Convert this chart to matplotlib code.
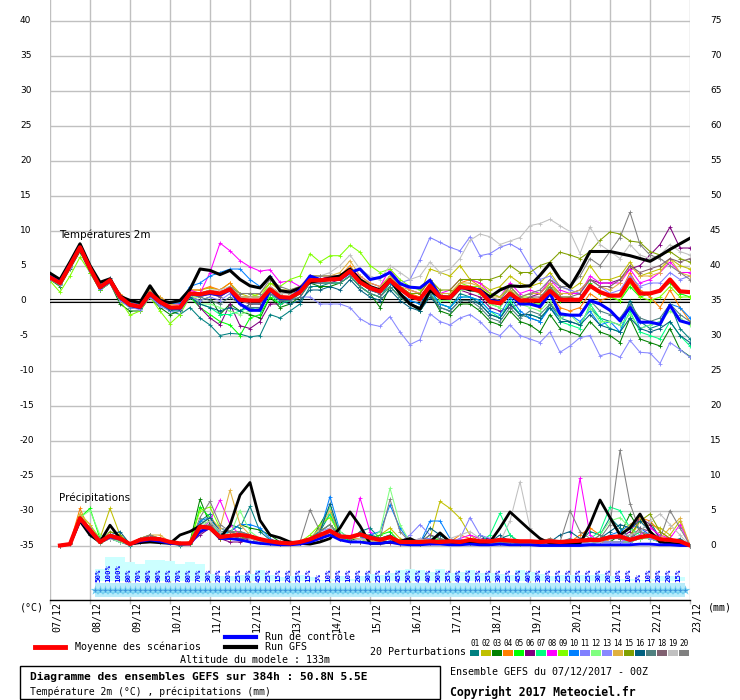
import matplotlib
matplotlib.use('Agg')
import matplotlib.pyplot as plt
from matplotlib.lines import Line2D
from matplotlib.patches import Rectangle

# ---------------- data ----------------
HOURS = list(range(0, 385, 6))          # 6-hourly steps, 07/12 00Z -> 23/12 00Z
DAY_LABELS = ['07/12', '08/12', '09/12', '10/12', '11/12', '12/12', '13/12', '14/12',
              '15/12', '16/12', '17/12', '18/12', '19/12', '20/12', '21/12', '22/12', '23/12']
LEFT_TICKS = [-35, -30, -25, -20, -15, -10, -5, 0, 5, 10, 15, 20, 25, 30, 35, 40]
RIGHT_TICKS = [0, 5, 10, 15, 20, 25, 30, 35, 40, 45, 50, 55, 60, 65, 70, 75]

MEMBER_COLORS = ['#008080', '#c0c000', '#008000', '#ff8000', '#00ff00', '#800080', '#00ff80',
                 '#ff00ff', '#80ff00', '#0080ff', '#8080ff', '#80ff80', '#8888ff', '#e0b040',
                 '#80a000', '#006080', '#508080', '#806070', '#c0c0c0', '#808080']

T_MEAN = [3.3,2.5,5.0,7.6, 4.6,1.9,2.9,0.5, -0.6,-0.9,1.0,-0.2, -1.0,-1.0,1.0,0.9, 1.2,1.0,1.6,0.1,
          0.0,0.0,1.6,0.5, 0.4,1.2,2.9,2.9, 3.0,3.1,4.2,2.6, 1.8,1.3,2.9,1.7, 0.6,0.2,2.1,0.5,
          0.4,1.9,1.8,1.3, -0.2,-0.4,1.0,0.0, 0.0,0.0,1.4,0.1, 0.1,0.1,2.1,1.2, 0.7,0.7,3.0,1.0,
          1.0,1.4,3.0,1.3, 1.2]
T_CTRL = [3.4,2.6,5.1,7.6, 4.5,1.8,2.8,0.4, -0.7,-1.0,0.9,-0.3, -1.1,-1.1,0.9,0.8, 1.0,0.8,1.5,-0.5,
          -1.4,-1.4,1.5,0.3, 0.3,1.5,3.5,3.0, 3.0,3.0,4.0,4.5, 3.0,3.3,4.0,2.4, 1.9,1.8,2.9,0.6,
          0.3,1.8,1.8,1.5, 0.0,-0.2,1.0,-0.5, -0.5,-0.9,1.0,-1.9, -2.1,-2.1,0.0,-0.5, -1.4,-2.9,-1.0,-3.1,
          -3.1,-3.4,-0.7,-2.9, -3.3]
T_GFS = [3.9,3.0,5.5,8.1, 5.0,2.6,3.1,0.6, 0.0,-0.3,2.1,0.0, -0.3,0.0,1.6,4.5, 4.3,3.7,4.3,3.0,
         2.1,1.8,3.4,1.4, 1.2,1.8,2.6,2.9, 3.2,3.5,4.5,3.0, 2.0,1.5,3.0,1.0, -0.5,-1.2,1.4,0.5,
         0.5,2.0,1.5,1.5, 0.5,1.5,2.1,2.0, 2.1,3.6,5.3,3.1, 1.9,4.3,7.0,7.0, 7.0,6.7,6.4,6.0,
         5.6,6.4,7.3,8.1, 8.9]

T01 = [3.5,2.8,5.2,7.5, 4.3,1.5,2.5,0.0, -1.0,-1.2,0.5,-0.5, -1.5,-2.0,-1.0,-2.5, -3.5,-5.0,-4.7,-4.8,
       -5.2,-5.0,-2.0,-2.5, -1.5,-0.5,2.0,2.0, 2.5,2.5,3.5,2.0, 1.0,0.5,2.5,1.0, 0.0,-0.5,1.5,-0.5,
       -1.0,1.0,0.5,-0.5, -2.0,-2.5,-0.5,-2.0, -2.5,-3.0,-0.5,-2.5, -3.0,-3.5,-1.0,-2.5, -3.0,-3.5,0.0,-3.0,
       -4.0,-3.5,-0.5,-4.0, -5.5]
T02 = [3.0,2.3,4.8,7.3, 4.5,2.0,3.0,0.8, -0.3,-0.5,1.5,0.3, -0.5,-0.3,1.5,1.5, 1.8,1.5,2.5,1.0,
       0.5,1.0,2.5,1.5, 1.5,2.0,3.5,3.5, 3.5,3.5,4.5,3.0, 2.5,2.0,3.5,2.5, 1.5,1.0,4.5,4.0,
       3.5,5.0,3.0,2.5, 1.5,2.0,3.5,2.5, 2.0,2.5,4.0,2.0, 1.5,2.5,5.0,3.0, 3.0,3.5,5.5,3.5,
       4.0,4.5,6.0,5.0, 4.5]
T03 = [3.0,2.0,4.5,7.0, 4.0,1.5,2.5,-0.5, -1.5,-1.5,0.5,-1.0, -2.0,-1.5,0.5,0.0, 0.5,-2.0,-0.5,-1.5,
       -2.0,-2.5,0.5,-1.0, -0.5,0.5,2.5,2.0, 2.0,2.5,3.5,2.0, 1.0,-1.0,2.0,0.5, -0.5,-1.5,1.0,-1.5,
       -2.0,-0.5,-0.5,-1.5, -3.0,-3.5,-1.5,-3.0, -3.5,-4.5,-2.0,-4.0, -4.5,-5.0,-3.0,-4.5, -5.0,-6.0,-2.5,-5.5,
       -6.0,-6.5,-4.0,-7.0, -8.0]
T04 = [3.5,2.8,5.3,7.8, 4.8,2.2,3.2,1.0, -0.2,-0.5,1.5,0.5, -0.5,-0.5,1.5,1.5, 2.0,1.5,2.5,0.5,
       0.5,0.5,2.0,1.0, 1.0,1.5,3.5,3.0, 3.5,3.5,5.0,3.0, 2.0,1.5,3.5,2.0, 1.0,0.5,2.5,1.0,
       1.0,2.5,3.0,2.0, 1.0,0.5,2.0,0.5, 0.0,-1.0,1.0,-1.0, -1.5,-1.0,1.0,0.0, 0.5,1.0,4.0,1.5,
       0.5,-1.0,1.5,-1.0, -3.0]
T05 = [3.0,2.2,4.8,7.4, 4.4,1.8,2.8,0.2, -1.0,-1.0,0.8,-0.5, -1.0,-1.5,0.5,-1.0, -2.0,-3.0,-3.5,-5.0,
       -2.5,-2.0,0.5,-0.5, 0.0,1.0,3.0,3.0, 3.0,3.0,4.0,2.5, 1.5,1.0,2.5,1.5, 0.5,0.0,2.0,0.0,
       0.0,2.0,2.0,1.0, -0.5,-1.0,1.5,0.0, -0.5,-0.5,2.0,0.0, 0.5,0.0,2.5,1.0, 0.5,0.0,2.0,0.5,
       1.0,1.5,2.5,1.0, 0.5]
T06 = [3.4,2.6,5.0,7.6, 4.6,2.0,3.0,0.5, -0.5,-1.0,1.0,-0.3, -1.2,-1.0,1.0,-1.0, -2.5,-3.5,-0.5,-3.6,
       -4.0,-3.0,-0.5,-0.5, 0.0,1.0,2.5,2.5, 2.5,3.0,4.0,2.5, 1.5,1.0,3.0,1.5, 0.5,0.0,2.0,0.5,
       0.5,1.5,1.0,0.5, -1.0,-1.5,-1.0,-0.5, 0.5,1.0,2.5,1.0, 1.0,1.5,3.0,2.5, 2.5,3.0,4.5,5.0,
       6.5,8.0,10.5,7.5, 7.5]
T07 = [3.2,2.4,5.0,7.5, 4.5,1.8,2.7,0.3, -0.8,-1.0,0.8,-0.5, -1.5,-1.5,0.5,-0.5, -1.0,-2.0,-2.0,-1.5,
       -1.0,-1.5,1.0,-0.5, 0.0,1.0,2.5,2.5, 2.5,2.5,3.5,2.0, 1.0,0.5,2.0,0.5, -0.5,-1.0,1.0,-0.5,
       -1.0,0.5,0.5,0.0, -1.5,-2.5,0.0,-2.0, -2.0,-2.5,-1.0,-3.0, -3.5,-4.0,-0.5,-2.5, -4.0,-4.5,-1.5,-4.5,
       -5.0,-5.5,-3.0,-5.0, -6.5]
T08 = [3.3,2.5,5.0,7.6, 4.7,2.0,3.0,0.6, -0.3,-0.5,1.2,0.0, -0.5,-0.5,1.5,1.0, 4.0,8.2,7.1,5.7,
       4.8,4.2,4.4,2.6, 2.8,2.0,3.5,3.0, 3.5,3.5,4.5,3.5, 2.5,2.0,4.5,2.5, 1.5,1.0,3.0,1.0,
       1.5,3.0,3.0,2.5, 1.0,0.5,2.5,1.0, 1.5,1.0,3.0,1.5, 1.0,1.0,3.5,2.5, 2.5,2.5,4.5,2.5,
       3.0,4.0,5.5,4.0, 4.0]
T09 = [2.8,1.2,3.5,6.2, 4.0,1.5,2.5,0.0, -2.1,-1.5,0.5,-1.5, -3.3,-2.0,0.5,0.5, 1.5,1.0,2.0,1.0,
       1.0,0.5,2.5,2.0, 3.0,3.5,6.7,5.5, 6.4,6.4,7.9,6.9, 5.0,4.0,4.5,3.0, 2.0,1.5,3.0,1.0,
       1.0,2.5,2.0,2.0, 1.0,0.5,2.0,0.5, 0.5,0.0,2.5,0.5, 0.5,0.0,2.0,1.0, 0.5,0.0,2.5,0.5,
       0.0,0.5,2.0,0.5, 0.5]
T10 = [3.6,2.8,5.4,7.8, 4.8,2.2,3.2,0.8, -0.2,-0.5,1.5,0.2, -0.5,-0.3,2.0,2.5, 3.5,4.0,4.5,4.5,
       3.0,2.0,3.5,1.5, 1.0,1.5,3.0,3.0, 3.0,3.0,4.0,2.5, 1.5,1.0,2.5,1.0, 0.0,-0.5,1.5,-0.5,
       -1.0,0.5,0.5,0.0, -1.5,-2.0,0.5,-1.5, -2.5,-3.0,-1.0,-2.5, -2.0,-3.0,-1.5,-3.5, -3.0,-4.5,-0.5,-4.0,
       -3.5,-3.0,-0.5,-1.0, -2.5]
T11 = [3.2,2.4,4.8,7.3, 4.4,1.7,2.7,0.2, -0.8,-1.2,0.7,-0.6, -1.2,-1.2,0.8,0.5, 1.0,0.5,1.5,0.0,
       -0.5,-0.5,1.5,0.5, 0.5,1.0,2.5,2.5, 3.0,3.0,4.0,3.0, 2.0,1.5,3.0,2.5, 3.0,5.8,9.0,8.3,
       7.6,7.1,9.1,6.4, 6.7,7.6,8.1,7.3, 4.9,3.0,3.5,2.0, 1.5,1.0,3.0,2.0, 1.0,1.5,3.5,2.0,
       2.5,2.5,4.0,3.0, 3.5]
T12 = [3.1,2.3,4.9,7.4, 4.5,1.9,2.8,0.4, -0.7,-0.9,0.9,-0.3, -1.2,-1.0,0.8,-0.5, -0.5,-1.0,-1.5,-2.0,
       -1.5,-1.0,1.0,0.0, 0.5,1.0,3.0,3.0, 3.0,3.0,4.5,3.0, 2.0,1.5,3.5,2.0, 0.5,0.0,2.0,0.0,
       0.0,1.5,1.5,1.0, -0.5,-1.0,1.0,-0.5, -1.0,-1.5,0.0,-2.5, -2.0,-3.5,-1.0,-3.0, -3.0,-3.5,-2.0,-4.0,
       -3.5,-3.0,-1.5,-2.5, -3.5]
T13 = [3.0,2.2,4.7,7.2, 4.2,1.6,2.5,0.0, -1.0,-1.3,0.5,-0.8, -1.5,-1.5,0.5,0.0, 0.5,0.0,1.0,-0.5,
       -1.0,-1.0,1.0,0.0, 0.0,0.5,0.5,-0.5, -0.5,-0.5,-1.0,-2.6, -3.4,-3.7,-2.3,-4.5, -6.3,-5.6,-1.9,-3.0,
       -3.5,-2.5,-2.0,-3.0, -4.5,-5.0,-3.5,-5.0, -5.5,-6.0,-4.5,-7.4, -6.5,-5.3,-5.0,-7.9, -7.5,-8.1,-5.7,-7.4,
       -7.5,-9.0,-6.0,-7.0, -8.1]
T14 = [3.4,2.6,5.1,7.7, 4.7,2.1,3.1,0.7, -0.1,-0.4,1.5,0.5, -0.5,-0.8,1.0,1.0, 1.5,1.0,2.0,0.5,
       0.5,0.5,2.0,1.0, 1.0,1.5,3.5,3.5, 3.5,4.0,5.7,3.5, 2.5,2.0,3.5,2.0, 1.5,1.0,3.0,1.0,
       1.0,2.5,2.5,2.0, 0.5,0.5,1.5,0.5, 1.0,1.0,2.5,1.0, 1.0,1.5,3.0,2.0, 1.5,2.5,5.0,3.5,
       3.5,4.0,6.0,4.0, 3.5]
T15 = [3.2,2.5,5.0,7.5, 4.6,1.9,2.9,0.5, -0.6,-0.9,1.0,-0.2, -1.0,-1.0,1.0,1.0, 1.5,1.0,1.5,0.5,
       0.5,0.5,2.0,1.0, 1.0,1.5,3.0,3.0, 3.0,3.5,4.5,3.0, 2.0,1.5,3.0,2.0, 1.0,1.0,3.0,1.5,
       1.5,3.0,3.0,3.0, 3.0,3.5,5.0,4.0, 4.0,5.0,5.5,6.9, 6.5,6.0,7.0,8.6, 9.8,9.5,8.5,8.3,
       7.0,6.5,7.0,6.0, 5.5]
T16 = [3.5,2.6,5.1,7.6, 4.5,1.8,2.8,0.3, -0.8,-1.1,0.8,-0.4, -1.4,-1.3,0.5,-0.5, -1.0,-1.5,-1.0,-1.5,
       -0.5,-0.5,1.5,0.0, -0.5,0.0,1.5,1.5, 2.0,1.5,3.0,1.5, 0.5,0.0,1.5,0.0, -1.0,-1.5,0.5,-1.0,
       -1.5,0.0,0.0,-0.5, -2.0,-2.5,-0.5,-2.0, -2.0,-2.5,-1.0,-3.0, -3.0,-3.5,-2.0,-3.5, -4.0,-4.5,-2.5,-4.0,
       -4.5,-4.0,-3.0,-5.0, -6.0]
T17 = [3.3,2.5,5.1,7.6, 4.6,1.9,2.9,0.5, -0.6,-0.9,1.0,-0.2, -1.0,-1.0,1.0,0.5, 0.0,-0.5,0.5,-0.5,
       -1.0,-1.0,1.0,0.0, 0.0,0.5,2.5,2.5, 2.5,2.5,3.5,2.0, 1.0,0.5,2.0,0.5, -0.5,-1.0,1.0,-1.0,
       -1.5,0.0,0.0,-1.0, -2.5,-3.0,-1.0,-2.5, -1.5,-2.0,-0.5,-2.0, -2.0,-2.0,0.0,-1.5, -2.0,-2.5,-0.5,-2.5,
       -3.0,-2.5,-0.5,-2.0, -3.0]
T18 = [3.2,2.4,5.0,7.6, 4.7,2.0,3.0,0.6, -0.5,-0.8,1.0,-0.2, -1.0,-1.0,1.0,1.0, 1.0,0.5,1.5,0.0,
       -0.5,-0.5,1.5,0.5, 0.5,1.0,3.0,3.0, 3.0,3.0,4.0,2.5, 1.5,1.0,3.0,1.5, 0.5,0.0,2.0,0.5,
       0.5,2.0,2.0,1.5, 0.0,-0.5,1.0,0.0, 0.5,0.5,2.0,0.5, 0.5,1.0,3.0,2.0, 2.0,3.0,5.0,4.0,
       4.5,5.0,6.0,5.5, 6.0]
T19 = [3.3,2.5,5.0,7.6, 4.6,1.9,2.9,0.5, -0.6,-0.9,1.0,-0.2, -1.0,-1.0,1.0,1.0, 1.5,1.5,2.0,0.5,
       0.5,0.5,2.0,1.0, 1.0,1.5,3.0,3.5, 4.0,5.0,6.5,4.5, 3.5,3.0,5.0,4.0, 3.0,3.5,5.5,4.0,
       4.5,6.0,8.6,9.5, 9.1,8.0,8.5,9.0, 10.7,11.0,11.6,10.7, 9.8,6.7,10.5,8.0, 7.0,6.0,8.0,6.5,
       6.0,6.5,8.0,7.0, 6.5]
T20 = [3.3,2.5,5.0,7.6, 4.6,1.9,2.9,0.5, -0.6,-0.9,1.0,-0.2, -1.0,-1.0,1.0,0.5, 1.0,1.0,2.0,1.0,
       1.0,1.0,3.0,2.0, 1.5,2.0,3.5,3.5, 3.5,3.5,4.5,3.0, 2.0,1.5,3.0,1.5, 0.5,0.0,2.0,0.5,
       0.5,2.0,2.0,1.5, 0.5,0.0,2.0,0.5, 1.0,1.5,3.0,2.0, 2.0,3.5,6.0,5.0, 7.0,9.0,12.6,8.0,
       6.5,6.0,5.0,4.0, 3.0]

# precipitation (mm per 6h), from 07/12 06Z
P_MEAN = [0.0,0.2,3.9, 2.2,0.5,1.4,1.0, 0.2,0.8,1.0,0.9, 0.5,0.3,0.3,2.7, 2.5,1.2,1.4,1.5,
          1.3,0.9,0.6,0.4, 0.3,0.5,0.9,1.5, 2.1,1.3,1.2,1.6, 1.1,0.8,1.2,0.5, 0.5,0.5,0.6,0.5,
          0.6,0.5,0.8,0.6, 0.6,0.8,0.7,0.6, 0.6,0.5,0.6,0.5, 0.6,0.7,0.8,0.8, 1.2,1.3,0.8,1.2,
          1.4,0.9,0.8,0.6, 0.0]
P_CTRL = [0,0.2,3.7,2.0,0.5,1.2,1.0,0.2, 0.6,0.8,0.6,0.3,0.2,0.2,2.0,2.5, 1.0,1.0,0.8,0.5,0.3,0.2,0.1,0.1,
          0.2,0.5,1.0,1.5,0.8,0.5,0.5,0.3, 0.3,0.5,0.2,0.1,0.1,0.2,0.2,0.1, 0.1,0.2,0.1,0.1,0.2,0.1,0.1,0.1,
          0,0,0,0,0,0.1,0.1,0.1, 0.1,0.1,0.2,0.2,0.1,0.1,0,0]
P_GFS = [0.0,0.2,3.5,1.5,0.5,2.9,1.0,0.2, 0.4,0.5,0.4,0.3,1.5,2.0,2.8,2.5, 1.0,2.9,7.2,9.0,3.6,1.5,1.1,0.5,
         0.3,0.2,0.5,1.0,2.5,4.8,2.8,0.3, 0.3,0.5,0.6,1.0,0.3,0.5,1.8,0.5, 0.2,0.5,0.3,0.5,2.5,4.8,3.5,2.2,
         1.0,0.3,0.2,0.2,0.3,3.0,6.5,4.0, 1.5,2.5,4.5,2.0,0.5,0.3,0.2,0.0]

P01 = [0,0.3,4.0,2.0,0.5,1.0,0.5,0, 0.5,1.5,0.8,0.3,0,0.2,3.5,4.5, 1.5,3.0,2.5,5.6,2.0,0.8,0.3,0.2,
       0.5,1.0,2.0,4.5,1.0,0.5,2.0,2.5, 1.0,1.0,0.3,0.2,0.5,0.3,1.5,0.5, 0.3,0.5,1.5,0.5,1.0,1.5,0.3,0.2,
       0.2,0.5,0.3,0.2,0.5,2.0,1.5,4.0, 2.5,1.0,2.0,3.5,1.0,0.5,1.0,0]
P02 = [0,0.2,3.5,2.5,1.0,5.3,1.5,0.2, 1.0,1.0,0.5,0.3,0.2,0.5,2.0,3.0, 1.5,1.0,1.0,0.5,0.5,0.3,0.2,0.2,
       0.3,0.5,1.0,2.0,1.0,0.5,1.0,0.5, 1.5,2.5,1.0,0.5,0.5,1.0,6.3,5.3, 3.9,1.5,0.5,0.3,0.5,0.5,0.3,0.2,
       0.3,0.5,0.5,0.3,0.5,0.5,1.0,1.0, 1.5,1.0,3.5,3.0,2.5,1.5,3.5,0]
P03 = [0,0.2,4.5,1.5,0.3,1.0,1.0,0.2, 0.5,0.8,0.5,0.3,0.2,0.5,6.6,3.0, 2.5,2.0,3.0,2.5,2.2,1.5,0.5,0.2,
       0.3,0.5,3.0,5.5,1.0,0.8,1.0,1.5, 1.0,1.0,0.5,0.3,0.3,0.5,0.5,0.3, 0.3,0.3,0.5,0.3,0.5,0.3,0.2,0.2,
       0.2,0.3,0.2,0.2,0.3,0.3,0.5,0.5, 1.5,4.5,2.0,1.0,0.5,0.3,0.3,0]
P04 = [0,0.3,5.3,2.0,0.5,1.5,1.0,0.2, 1.0,1.5,1.0,0.5,0.3,0.5,2.5,3.5, 1.0,1.5,2.0,1.0,0.5,0.5,0.3,0.2,
       0.5,1.0,1.5,1.5,1.0,0.5,0.5,0.5, 0.5,0.5,0.3,0.3,0.2,0.3,0.5,0.5, 1.5,1.0,0.5,0.5,0.3,0.3,0.2,0.2,
       0.5,1.0,0.5,0.5,1.5,2.5,1.5,0.5, 0.5,1.0,4.0,3.5,2.0,1.0,0.5,0]
P05 = [0,0.2,4.0,5.3,1.0,1.0,0.5,0.2, 0.5,1.0,0.5,0.3,0.2,0.2,5.5,4.0, 2.0,1.5,1.0,1.5,0.5,0.3,0.2,0.2,
       0.3,1.0,2.0,3.0,1.5,0.5,0.5,1.0, 1.5,2.0,0.5,0.3,0.2,0.5,1.0,0.5, 0.5,0.5,0.3,0.3,0.3,0.3,0.2,0.2,
       0.2,0.3,0.2,0.2,0.3,0.3,0.5,0.5, 0.5,0.5,1.0,1.0,0.5,0.3,0.3,0]
P06 = [0,0.2,3.5,2.5,0.5,1.0,0.8,0.2, 0.5,1.0,0.5,0.3,0.2,0.3,1.5,2.5, 1.0,0.5,0.5,1.0,0.5,0.3,0.2,0.2,
       0.3,0.5,1.0,1.5,1.0,0.5,0.5,0.3, 0.3,0.3,0.2,0.2,0.2,1.0,0.5,0.3, 0.3,0.5,1.0,1.0,0.5,0.5,0.3,0.2,
       0.2,0.3,0.3,0.5,0.3,0.5,0.5,1.0, 1.0,2.0,4.0,3.0,1.0,0.5,0.3,0]
P07 = [0,0.2,4.2,2.5,0.5,1.0,0.5,0.2, 0.5,1.0,0.5,0.3,0.2,0.3,3.0,4.0, 2.0,1.5,1.5,1.0,0.5,0.3,0.2,0.2,
       0.5,1.0,2.5,4.5,1.5,0.5,1.0,1.0, 1.0,1.5,0.5,0.3,0.3,1.5,0.5,0.3, 0.5,0.5,0.5,1.5,4.6,1.5,0.5,0.3,
       0.3,0.5,0.5,0.3,0.5,1.0,2.0,5.5, 5.0,2.5,1.5,1.0,0.5,0.3,0.3,0]
P08 = [0,0.2,3.5,2.0,0.5,1.0,0.5,0.2, 0.5,1.0,0.5,0.3,0.2,0.3,2.0,3.5, 6.5,3.0,1.5,1.0,0.5,0.3,0.2,0.2,
       0.3,0.5,1.0,2.0,1.0,0.5,6.8,2.0, 0.5,0.5,0.5,0.3,0.3,0.5,0.5,0.3, 1.0,1.5,1.0,0.5,1.0,0.5,0.3,0.3,
       0.3,0.5,0.5,0.3,9.6,1.5,0.5,0.5, 0.5,1.0,1.5,2.5,1.5,1.0,3.0,0]
P09 = [0,0.3,4.5,3.0,1.0,1.5,1.0,0.2, 1.0,1.5,1.0,0.5,0.3,0.5,5.0,5.5, 2.5,2.0,1.5,1.5,1.0,0.5,0.2,0.2,
       0.5,1.5,3.0,4.0,1.5,1.0,1.0,0.5, 0.5,1.0,0.3,0.2,0.2,0.5,0.5,0.3, 0.3,0.3,0.3,0.5,0.5,0.3,0.2,0.2,
       0.2,0.3,0.3,0.2,0.3,0.3,0.5,0.5, 0.5,0.5,1.0,1.0,0.5,0.3,0.2,0]
P10 = [0,0.2,3.8,2.0,0.5,1.5,1.0,0.2, 0.5,1.0,0.5,0.3,0.2,0.3,3.5,4.0, 1.5,2.0,3.0,3.0,2.5,1.0,0.3,0.2,
       0.3,1.0,2.0,7.0,2.0,1.0,1.0,1.5, 2.0,5.8,2.5,0.5,0.3,3.5,3.5,1.0, 0.5,0.5,0.5,0.5,0.5,0.3,0.3,0.2,
       0.2,0.3,0.3,0.2,0.3,0.5,0.5,1.5, 2.0,3.0,2.5,1.5,1.0,1.0,0.5,0]
P11 = [0,0.2,3.5,2.0,0.5,1.0,0.5,0.2, 1.0,1.0,0.5,0.3,0.2,0.3,2.0,3.0, 1.5,1.5,1.0,1.0,0.5,0.3,0.2,0.2,
       0.3,0.5,1.0,2.0,1.0,0.5,0.5,0.5, 0.5,0.5,0.5,1.5,3.0,1.5,1.0,0.5, 1.0,4.0,1.5,1.0,0.5,0.5,0.5,0.3,
       0.3,0.3,0.3,0.2,0.3,0.3,0.5,0.5, 0.5,0.5,1.0,1.5,1.0,0.5,0.5,0]
P12 = [0,0.2,4.0,5.0,1.5,1.0,0.5,0.2, 0.5,1.0,0.5,0.3,0.2,0.3,3.0,3.5, 1.5,1.5,5.0,2.0,1.0,0.5,0.3,0.2,
       0.3,1.0,2.5,5.5,2.0,1.0,1.0,1.0, 2.0,8.2,3.0,0.5,0.3,1.0,1.0,0.5, 0.5,0.5,0.3,0.3,0.5,0.3,0.2,0.2,
       0.2,0.3,0.3,0.2,0.3,0.5,1.5,3.5, 4.0,2.5,1.0,1.0,0.5,0.3,0.3,0]
P13 = [0,0.2,3.5,1.5,0.5,1.0,1.0,0.2, 0.5,0.8,0.5,0.3,0.2,0.3,2.5,3.0, 2.5,2.0,1.5,1.0,0.5,0.3,0.2,0.2,
       0.5,1.0,2.0,2.5,1.0,0.5,1.0,1.0, 1.0,1.0,0.5,0.5,1.0,1.0,0.5,0.5, 0.5,0.5,0.3,0.3,0.3,0.3,0.3,0.3,
       0.3,0.3,0.3,0.3,0.3,0.3,0.5,0.5, 0.5,1.0,1.5,1.0,0.5,0.3,0.3,0]
P14 = [0,0.3,4.5,3.0,0.5,1.0,1.0,0.2, 1.0,1.5,1.5,0.5,0.2,0.3,3.0,4.0, 2.5,7.9,3.0,1.5,1.0,0.5,0.3,0.2,
       0.5,1.0,2.5,5.0,1.5,1.0,1.0,0.5, 0.5,0.5,0.3,0.3,0.3,0.5,0.5,0.3, 0.3,0.5,0.3,0.3,0.3,0.3,0.3,0.3,
       0.3,0.5,0.3,0.3,0.5,0.5,0.5,1.0, 1.5,3.0,4.0,2.0,1.0,2.5,3.9,0]
P15 = [0,0.2,3.5,2.0,0.5,2.0,1.5,0.2, 0.5,1.0,0.5,0.3,0.2,0.3,2.5,3.0, 1.0,1.0,1.0,0.5,0.5,0.3,0.2,0.2,
       0.3,0.5,1.0,1.5,1.0,0.5,0.5,0.5, 0.5,1.0,0.5,0.3,0.3,0.5,0.5,0.3, 0.3,0.3,0.5,0.5,0.5,0.5,0.3,0.3,
       0.3,0.5,0.5,0.3,0.5,0.5,0.5,1.0, 1.0,1.5,3.5,4.5,2.0,1.0,0.5,0]
P16 = [0,0.3,4.0,2.0,0.5,1.5,2.0,0.2, 0.5,1.0,0.5,0.3,0.2,0.3,3.0,4.0, 2.0,2.0,2.0,1.5,1.0,0.5,0.3,0.2,
       0.5,1.0,2.0,6.0,1.5,1.0,1.5,1.5, 1.0,1.5,0.5,0.3,0.3,2.5,1.5,0.5, 0.5,0.5,0.5,0.5,1.5,0.5,0.3,0.3,
       0.3,0.5,1.5,2.0,1.0,0.5,1.0,2.0, 3.0,2.5,3.5,2.0,1.0,0.5,0.3,0]
P17 = [0,0.2,3.8,2.5,0.5,1.0,0.8,0.2, 0.8,1.5,0.5,0.3,0.2,0.3,2.5,3.5, 2.0,2.0,1.5,1.0,0.5,0.5,0.3,0.2,
       0.5,1.0,2.0,3.0,1.0,1.0,1.5,1.0, 1.0,1.0,0.5,0.3,0.3,0.5,0.5,0.5, 0.5,0.5,0.5,0.5,0.5,0.5,0.3,0.3,
       0.3,0.5,0.5,1.0,0.5,0.5,1.5,1.0, 1.0,1.5,2.0,1.5,1.0,0.5,0.3,0]
P18 = [0,0.2,3.5,2.0,0.5,1.0,0.8,0.2, 0.5,1.0,0.5,0.3,0.2,0.3,2.0,3.0, 1.5,1.5,1.0,1.0,0.5,0.3,0.2,0.2,
       0.3,0.5,1.0,2.0,1.0,0.5,0.5,0.5, 0.5,0.5,0.3,0.3,0.5,1.5,1.0,0.5, 0.5,1.0,0.5,0.5,0.5,0.5,0.3,0.3,
       0.3,0.5,0.5,0.3,0.5,0.5,0.5,1.0, 1.5,1.0,2.5,2.0,1.0,0.5,0.3,0]
P19 = [0,0.2,3.8,2.5,0.5,1.0,1.0,0.2, 0.5,1.0,0.5,0.3,0.2,0.3,2.5,3.5, 2.0,1.5,1.5,1.0,0.5,0.5,0.3,0.2,
       0.5,1.0,1.5,2.5,1.0,0.5,1.0,0.5, 0.5,1.0,0.5,0.5,1.0,0.5,0.5,1.0, 1.5,2.0,1.0,0.5,0.5,3.5,9.1,2.5,
       1.0,0.5,0.5,0.3,0.5,0.5,0.5,1.0, 1.5,1.5,2.0,3.5,4.5,3.0,1.5,0]
P20 = [0,0.3,4.0,2.5,1.0,1.5,1.0,0.2, 1.0,1.5,1.0,0.5,0.2,0.3,4.0,6.3, 3.0,2.0,2.0,1.5,1.0,0.5,0.3,0.2,
       0.5,5.1,2.0,3.0,1.5,1.0,1.5,1.0, 1.0,6.6,2.0,0.5,0.5,0.5,0.5,0.5, 0.5,0.5,0.5,0.5,0.5,0.5,0.3,0.3,
       0.5,1.0,0.5,5.0,2.0,1.0,1.0,3.0, 13.6,6.0,2.0,1.5,1.0,5.0,2.5,0]

# probability of precipitation labels (6h steps from 08/12)
PCT = [50, 100, 100, 80, 70, 90, 90, 85, 70, 80, 70, 30, 20, 20, 25, 30, 45, 25, 15, 20,
       25, 15, 5, 10, 20, 10, 20, 30, 25, 35, 45, 50, 45, 40, 50, 35, 40, 45, 35, 35,
       30, 25, 45, 40, 30, 20, 25, 25, 25, 25, 30, 20, 10, 10, 5, 10, 20, 20, 15]

T_MEMBERS = [T01, T02, T03, T04, T05, T06, T07, T08, T09, T10,
             T11, T12, T13, T14, T15, T16, T17, T18, T19, T20]
P_MEMBERS = [P01, P02, P03, P04, P05, P06, P07, P08, P09, P10,
             P11, P12, P13, P14, P15, P16, P17, P18, P19, P20]

# ---------------- figure ----------------
W, H = 740, 700
MONO = 'DejaVu Sans Mono'
fig = plt.figure(figsize=(W / 100, H / 100), dpi=100)
fig.patch.set_facecolor('white')

Y0_PX, PX_PER_DEG = 20.5, 7.0     # 40°C at 20.5 px, 7 px / unit
def px_to_val(ypx):
    return 40 - (ypx - Y0_PX) / PX_PER_DEG

ax = fig.add_axes([50 / W, 100 / H, 640 / W, 600 / H])
ax.set_xlim(0, 384)
ax.set_ylim(px_to_val(600), px_to_val(0))
for s in ['top', 'left', 'right']:
    ax.spines[s].set_visible(False)
ax.spines['bottom'].set_color('black')
ax.spines['bottom'].set_linewidth(1.0)
ax.set_xticks([24 * d for d in range(len(DAY_LABELS))])
ax.set_xticklabels([])
ax.tick_params(axis='x', length=3, color='#c0c0c0', width=1)
ax.set_yticks([])

for v in LEFT_TICKS:
    ax.axhline(v, color='#c0c0c0', lw=1.0, zorder=0)
for d in range(len(DAY_LABELS)):
    ax.axvline(24 * d, color='#c0c0c0', lw=1.0, zorder=0)

# zero double line
ax.plot([0, 384], [0.21, 0.21], color='black', lw=0.8, zorder=1)
ax.plot([0, 384], [-0.21, -0.21], color='black', lw=0.8, zorder=1)

# precipitation probability strip
base = px_to_val(581)
for k, p in enumerate(PCT):
    t0 = 27 + 6 * k
    ax.add_patch(Rectangle((t0, base), 6, p * 0.236 / PX_PER_DEG, facecolor='#ccffff',
                           edgecolor='none', zorder=1))
ax.add_patch(Rectangle((27, px_to_val(597)), 354, 14 / PX_PER_DEG, facecolor='#b8ecfa',
                       edgecolor='none', zorder=1))
flake_x = [27 + 3 * j for j in range(119)]
ax.scatter(flake_x, [px_to_val(590)] * len(flake_x), marker='*', s=55, color='#70cdf0',
           linewidths=0, zorder=2)
ax.scatter(flake_x, [px_to_val(590)] * len(flake_x), marker='+', s=8, color='#3a8fd8',
           linewidths=0.6, zorder=2)
for k, p in enumerate(PCT):
    ax.text(29 + 6 * k, px_to_val(582), f'{p}%', rotation=90, ha='center', va='bottom',
            color='#0000ff', fontsize=5.3, family=MONO, fontweight='bold', zorder=3)

PHOURS = HOURS[1:]

# members
for col, tv, pv in zip(MEMBER_COLORS, T_MEMBERS, P_MEMBERS):
    ax.plot(HOURS, tv, color=col, lw=0.75, marker='+', ms=2.5, mew=0.6, zorder=3)
    ax.plot(PHOURS, [v - 35 for v in pv], color=col, lw=0.75, marker='+', ms=2.5, mew=0.6, zorder=3)

# GFS, control, mean
ax.plot(HOURS, T_GFS, color='black', lw=2.2, zorder=4)
ax.plot(PHOURS, [v - 35 for v in P_GFS], color='black', lw=2.0, zorder=4)
ax.plot(HOURS, T_CTRL, color='#0000ff', lw=2.2, zorder=5)
ax.plot(PHOURS, [v - 35 for v in P_CTRL], color='#0000ff', lw=2.0, zorder=5)
ax.plot(HOURS, T_MEAN, color='#ff0000', lw=3.0, zorder=6)
ax.plot(PHOURS, [v - 35 for v in P_MEAN], color='#ff0000', lw=3.0, zorder=6)

ax.text(5.4, px_to_val(235), 'Températures 2m', fontsize=7.5, ha='left', va='center', zorder=7)
ax.text(5.4, px_to_val(498), 'Précipitations', fontsize=7.5, ha='left', va='center', zorder=7)

def ft(xp, yp, s, **kw):
    fig.text(xp / W, 1 - yp / H, s, **kw)

for v in LEFT_TICKS:
    ft(20, Y0_PX + (40 - v) * PX_PER_DEG, str(v), ha='left', va='center', fontsize=6.5)
for v in RIGHT_TICKS:
    ft(710, Y0_PX + (75 - v) * PX_PER_DEG, str(v), ha='left', va='center', fontsize=6.5)

for d, lab in enumerate(DAY_LABELS):
    ft(50 + 40 * d + 7, 602, lab, rotation=90, ha='center', va='top', fontsize=7.2, family=MONO)

ft(20, 607, '(°C)', ha='left', va='center', fontsize=7.2, family=MONO)
ft(708, 607, '(mm)', ha='left', va='center', fontsize=7.2, family=MONO)

# legend
def fline(x0, x1, yp, color, lw):
    fig.add_artist(Line2D([x0 / W, x1 / W], [1 - yp / H, 1 - yp / H], color=color, lw=lw,
                          transform=fig.transFigure))

fline(35, 65, 647, '#ff0000', 3.5)
ft(75, 647, 'Moyenne des scénarios', ha='left', va='center', fontsize=7.2, family=MONO)
fline(225, 256, 637, '#0000ff', 3.0)
ft(265, 637, 'Run de contrôle', ha='left', va='center', fontsize=7.2, family=MONO)
fline(225, 256, 647, 'black', 3.0)
ft(265, 647, 'Run GFS', ha='left', va='center', fontsize=7.2, family=MONO)
ft(180, 660, 'Altitude du modele : 133m', ha='left', va='center', fontsize=7.2, family=MONO)

ft(370, 652, '20 Perturbations', ha='left', va='center', fontsize=7.2, family=MONO)
for k, col in enumerate(MEMBER_COLORS):
    x0 = 470 + 11 * k
    fig.add_artist(Rectangle((x0 / W, 1 - 656 / H), 9.5 / W, 6 / H, facecolor=col,
                             edgecolor='none', transform=fig.transFigure))
    ft(x0 + 4.75, 643, f'{k + 1:02d}', ha='center', va='center', fontsize=5.5, family=MONO)

fig.add_artist(Rectangle((20 / W, 1 / H), 420 / W, 33 / H, fill=False, edgecolor='black',
                         lw=1.0, transform=fig.transFigure))
ft(30, 677, 'Diagramme des ensembles GEFS sur 384h : 50.8N 5.5E', ha='left', va='center',
   fontsize=8.1, family=MONO, fontweight='bold')
ft(30, 692, 'Température 2m (°C) , précipitations (mm)', ha='left', va='center',
   fontsize=7.0, family=MONO)
ft(450, 672, 'Ensemble GEFS du 07/12/2017 - 00Z', ha='left', va='center', fontsize=7.2, family=MONO)
ft(450, 692, 'Copyright 2017 Meteociel.fr', ha='left', va='center', fontsize=8.3, family=MONO,
   fontweight='bold')

fig.savefig('out.png', dpi=100)
